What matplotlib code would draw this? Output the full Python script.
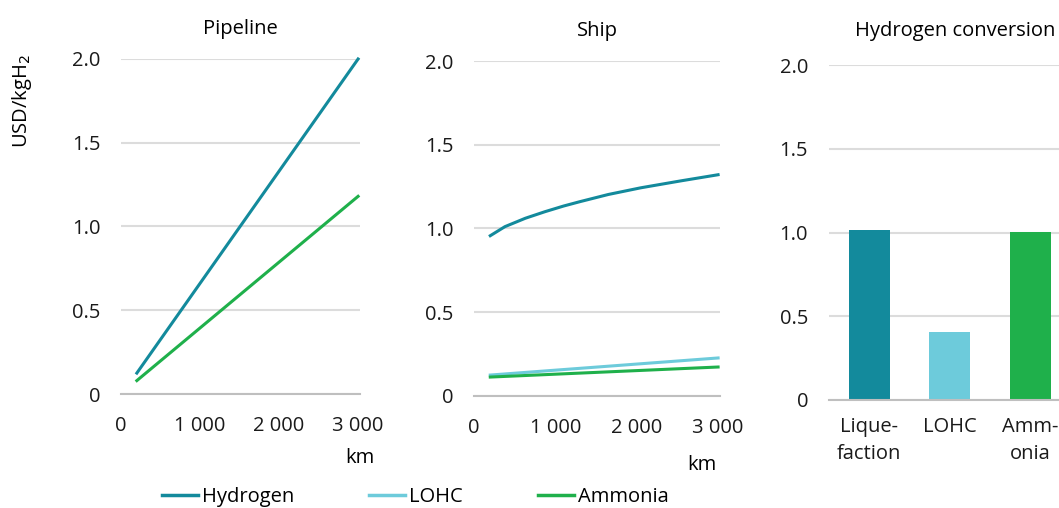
import matplotlib
matplotlib.use("Agg")
import matplotlib.pyplot as plt
from matplotlib.ticker import FuncFormatter

plt.rcParams['font.family'] = ['Open Sans', 'DejaVu Sans']
plt.rcParams['font.size'] = 14.5

# colours
c_h2 = "#138a9c"
c_lohc = "#6dcbdb"
c_nh3 = "#1fb04b"
c_grid = "#dcdcdc"
c_zero = "#bfbfbf"

# Pipeline (km, USD/kgH2)
pipe_km = [200, 3000]
pipe_h2 = [0.125, 2.0]
pipe_nh3 = [0.08, 1.18]

# Ship
ship_km = [200, 380, 630, 870, 1100, 1300, 1650, 2050, 2550, 3000]
ship_h2 = [0.957, 1.011, 1.061, 1.100, 1.134, 1.160, 1.203, 1.243, 1.285, 1.321]
ship_lohc_km = [200, 3000]
ship_lohc = [0.125, 0.227]
ship_nh3_km = [200, 3000]
ship_nh3 = [0.113, 0.173]

# Conversion
conv_labels = ["Lique-\nfaction", "LOHC", "Amm-\nonia"]
conv_values = [1.015, 0.406, 1.003]
conv_colors = [c_h2, c_lohc, c_nh3]

yticks = [0, 0.5, 1.0, 1.5, 2.0]
ylabels = ["0", "0.5", "1.0", "1.5", "2.0"]
xticks = [0, 1000, 2000, 3000]


def km_fmt(v, pos):
    return f"{int(v):,}".replace(",", " ")


def style(ax):
    ax.set_ylim(0, 2.0)
    ax.set_yticks(yticks)
    ax.set_yticklabels(ylabels)
    for s in ["top", "right", "left"]:
        ax.spines[s].set_visible(False)
    ax.spines["bottom"].set_color(c_zero)
    ax.spines["bottom"].set_linewidth(1.5)
    ax.grid(axis="y", color=c_grid, linewidth=1.5)
    ax.set_axisbelow(True)
    ax.tick_params(axis="y", length=0, pad=15, labelcolor="#1a1a1a")
    ax.tick_params(axis="x", length=0, labelcolor="#1a1a1a")


fig = plt.figure(figsize=(10.59, 5.08), dpi=100)

ax1 = fig.add_axes([0.1143, 0.2244, 0.2257, 0.6595])
ax2 = fig.add_axes([0.4476, 0.2205, 0.2324, 0.6594])
ax3 = fig.add_axes([0.7828, 0.2126, 0.2172, 0.6594])

for ax in (ax1, ax2, ax3):
    style(ax)

lw = 2.2
ax1.plot(pipe_km, pipe_h2, color=c_h2, lw=lw, clip_on=False)
ax1.plot(pipe_km, pipe_nh3, color=c_nh3, lw=lw, clip_on=False)
ax1.set_xlim(0, 3025)
ax1.set_xticks(xticks)
ax1.xaxis.set_major_formatter(FuncFormatter(km_fmt))
ax1.tick_params(axis="x", pad=16)
ax1.set_title("Pipeline", fontsize=14.5, pad=18)

ax2.plot(ship_km, ship_h2, color=c_h2, lw=lw, clip_on=False)
ax2.plot(ship_lohc_km, ship_lohc, color=c_lohc, lw=lw, clip_on=False)
ax2.plot(ship_nh3_km, ship_nh3, color=c_nh3, lw=lw, clip_on=False)
ax2.set_xlim(0, 3025)
ax2.set_xticks(xticks)
ax2.xaxis.set_major_formatter(FuncFormatter(km_fmt))
ax2.tick_params(axis="x", pad=16)
ax2.set_title("Ship", fontsize=14.5, pad=18)

xs = range(len(conv_values))
ax3.bar(xs, conv_values, width=0.51, color=conv_colors)
ax3.set_xlim(-0.5, 2.36)
ax3.set_xticks(list(xs))
ax3.set_xticklabels(conv_labels, linespacing=1.5)
ax3.tick_params(axis="x", pad=12)
ax3.set_title("Hydrogen conversion", fontsize=14.5, pad=21, x=0.55)

fig.text(0.021, 0.80, "USD/kgH$_2$", rotation=90, ha="center", va="center",
         fontsize=14.5)
fig.text(0.34, 0.098, "km", ha="center", va="center", fontsize=14.5)
fig.text(0.663, 0.085, "km", ha="center", va="center", fontsize=14.5)

handles = [plt.Line2D([], [], color=c, lw=2.5) for c in (c_h2, c_lohc, c_nh3)]
fig.legend(handles, ["Hydrogen", "LOHC", "Ammonia"], ncol=3, frameon=False,
           loc="center left", bbox_to_anchor=(0.1435, 0.022), borderpad=0,
           handlelength=1.8, handletextpad=0.2, columnspacing=3.7,
           fontsize=14.5)

fig.savefig("out.png", dpi=100)
